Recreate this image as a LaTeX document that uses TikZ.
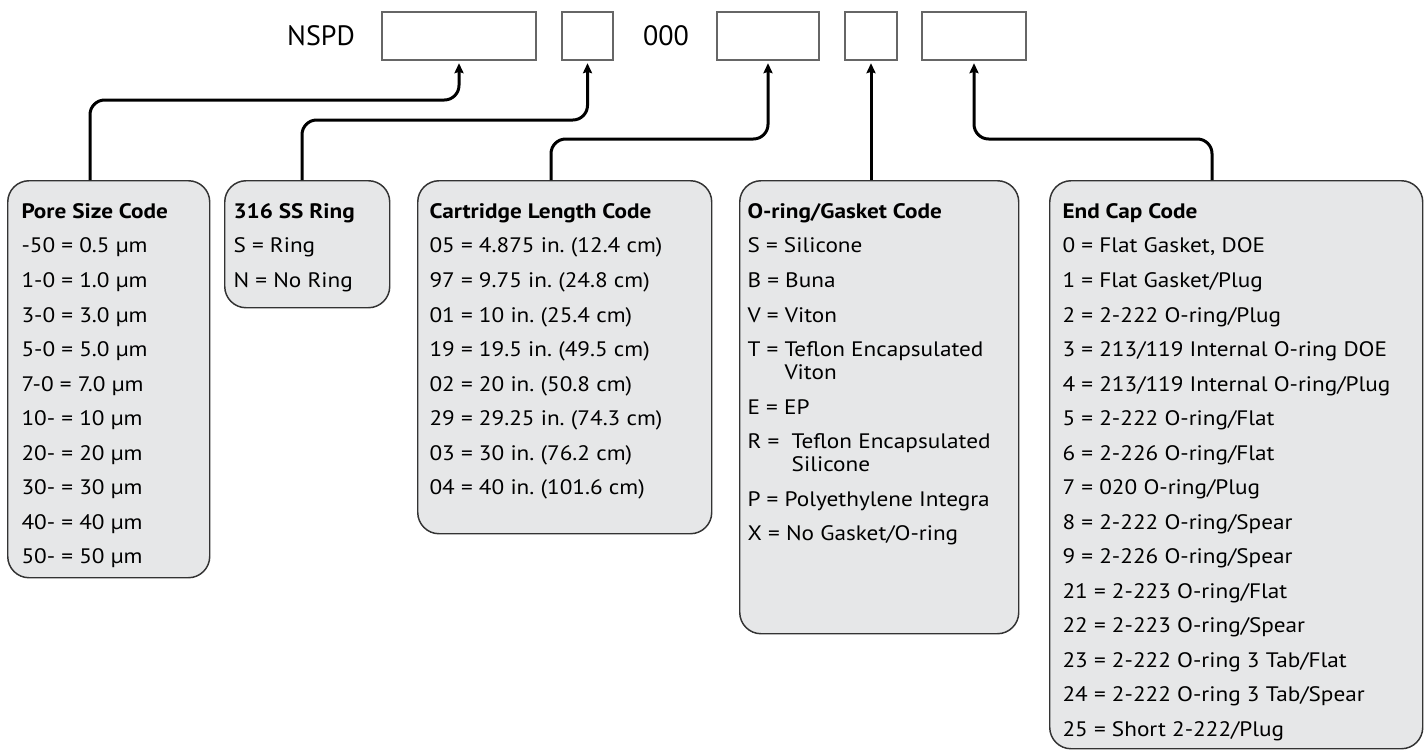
\documentclass[tikz,border=0pt]{standalone}
\usepackage{fontspec}
\setmainfont{PT Sans}
\newfontfamily\codefont{PT Sans}[FakeStretch=1.11]
\usetikzlibrary{arrows.meta}
\frenchspacing

\definecolor{boxfill}{HTML}{E6E7E8}
\definecolor{boxline}{HTML}{333333}
\definecolor{slotline}{HTML}{666666}

\tikzset{every picture/.style={line width=0.75pt}}
\tikzset{
  slot/.style={draw=slotline, line width=0.8pt, fill=white, minimum height=36pt, inner sep=0pt},
  codebox/.style={draw=boxline, line width=1.1pt, fill=boxfill, rounded corners=16pt, anchor=north west, inner sep=0pt},
  codetext/.style={anchor=north west, inner sep=0pt, align=left, font=\codefont\fontsize{15.7pt}{25.9pt}\selectfont},
  link/.style={line width=2.25pt, rounded corners=11pt, -{Stealth[length=7.5pt,width=6.8pt,inset=1pt]}, shorten >=2pt},
}

\begin{document}
\begin{tikzpicture}[x=0.75pt,y=0.75pt,yscale=-1,xscale=1]
    \useasboundingbox (0,0) rectangle (1426,750);
    % Part number
    \node [font=\fontsize{21pt}{25pt}\selectfont] (nspd) at (321,36) {NSPD};
    \node [slot, minimum width=115.5pt] (s1) at (459,36) {};
    \node [slot, minimum width=38.25pt] (s2) at (587.5,36) {};
    \node [font=\fontsize{21pt}{25pt}\selectfont] (zeros) at (666,36) {000};
    \node [slot, minimum width=76.5pt] (s3) at (768,36) {};
    \node [slot, minimum width=39pt] (s4) at (871,36) {};
    \node [slot, minimum width=78pt] (s5) at (974,36) {};
    % Code boxes
    \node [codebox, minimum width=151.5pt, minimum height=297.75pt] (pore) at (7,180) {};
    \node [codebox, minimum width=123.75pt, minimum height=95.25pt] (ring) at (224,180) {};
    \node [codebox, minimum width=220.5pt, minimum height=264.75pt] (length) at (417,180) {};
    \node [codebox, minimum width=209.25pt, minimum height=339.75pt] (gasket) at (739,180) {};
    \node [codebox, minimum width=279.75pt, minimum height=426pt] (endcap) at (1049,180) {};
    % Connectors
    \draw [link] (pore.north -| 90,0) |- (s1.south |- 0,100) -- (s1.south);
    \draw [link] (ring.north -| 302,0) |- (s2.south |- 0,120) -- (s2.south);
    \draw [link] (length.north -| 551,0) |- (s3.south |- 0,139) -- (s3.south);
    \draw [link] (gasket.north -| s4.south) -- (s4.south);
    \draw [link] (endcap.north -| 1212,0) |- (s5.south |- 0,139) -- (s5.south);
    % Text Node
    \node [codetext] (poretext) at (21,203) {\textbf{Pore Size Code}\\-50 = 0.5 µm\\1-0 = 1.0 µm\\3-0 = 3.0 µm\\5-0 = 5.0 µm\\7-0 = 7.0 µm\\10- = 10 µm\\20- = 20 µm\\30- = 30 µm\\40- = 40 µm\\50- = 50 µm};
    % Text Node
    \node [codetext] (ringtext) at (233,203) {\textbf{316 SS Ring}\\S = Ring\\N = No Ring};
    % Text Node
    \node [codetext] (lengthtext) at (429,203) {\textbf{Cartridge Length Code}\\05 = 4.875 in. (12.4 cm)\\97 = 9.75 in. (24.8 cm)\\01 = 10 in. (25.4 cm)\\19 = 19.5 in. (49.5 cm)\\02 = 20 in. (50.8 cm)\\29 = 29.25 in. (74.3 cm)\\03 = 30 in. (76.2 cm)\\04 = 40 in. (101.6 cm)};
    % Text Node
    \node [codetext] (gaskettext) at (747,203) {\textbf{O-ring/Gasket Code}\\S = Silicone\\B = Buna\\V = Viton\\T = Teflon Encapsulated\\[-8.6pt]\phantom{T = }Viton\\E = EP\\R = \ Teflon Encapsulated\\[-8.6pt]\phantom{R = \ }Silicone\\P = Polyethylene Integra\\X = No Gasket/O-ring};
    % Text Node
    \node [codetext] (endcaptext) at (1062,203) {\textbf{End Cap Code}\\0 = Flat Gasket, DOE\\1 = Flat Gasket/Plug\\2 = 2-222 O-ring/Plug\\3 = 213/119 Internal O-ring DOE\\4 = 213/119 Internal O-ring/Plug\\5 = 2-222 O-ring/Flat\\6 = 2-226 O-ring/Flat\\7 = 020 O-ring/Plug\\8 = 2-222 O-ring/Spear\\9 = 2-226 O-ring/Spear\\21 = 2-223 O-ring/Flat\\22 = 2-223 O-ring/Spear\\23 = 2-222 O-ring 3 Tab/Flat\\24 = 2-222 O-ring 3 Tab/Spear\\25 = Short 2-222/Plug};
\end{tikzpicture}
\end{document}
